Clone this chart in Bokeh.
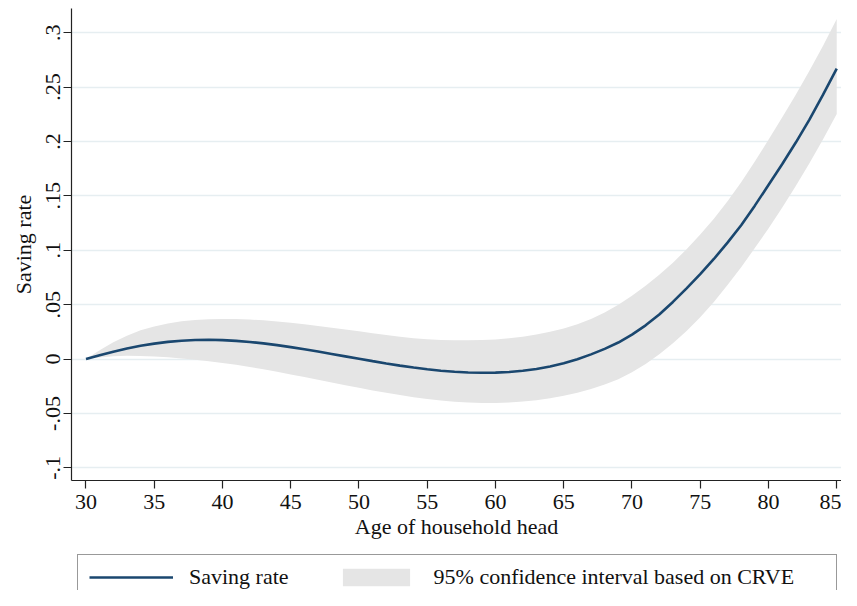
from bokeh.plotting import figure
from bokeh.layouts import column
from bokeh.models import (ColumnDataSource, FixedTicker, Legend, LegendItem, Range1d)
from bokeh.embed import file_html
from bokeh.resources import INLINE

ages = list(range(30, 86))
saving_rate = [0.0000, 0.0035, 0.0068, 0.0097, 0.0122, 0.0142, 0.0158, 0.0169, 0.0175, 0.0177,
               0.0174, 0.0167, 0.0157, 0.0144, 0.0128, 0.0110, 0.0090, 0.0069, 0.0047, 0.0025,
               0.0003, -0.0019, -0.0040, -0.0060, -0.0078, -0.0094, -0.0107, -0.0117, -0.0123, -0.0126,
               -0.0125, -0.0119, -0.0108, -0.0091, -0.0068, -0.0038, -0.0001, 0.0043, 0.0094, 0.0152,
               0.0225, 0.0310, 0.0410, 0.0525, 0.0650, 0.0780, 0.0920, 0.1070, 0.1230, 0.1410,
               0.1600, 0.1790, 0.1990, 0.2200, 0.2430, 0.2670]
ci_upper = [0.0000, 0.0080, 0.0155, 0.0215, 0.0265, 0.0300, 0.0328, 0.0348, 0.0360, 0.0367,
            0.0369, 0.0368, 0.0363, 0.0356, 0.0346, 0.0334, 0.0320, 0.0305, 0.0289, 0.0272,
            0.0255, 0.0238, 0.0221, 0.0205, 0.0192, 0.0182, 0.0176, 0.0173, 0.0173, 0.0176,
            0.0181, 0.0191, 0.0205, 0.0225, 0.0250, 0.0281, 0.0320, 0.0368, 0.0428, 0.0500,
            0.0582, 0.0675, 0.0775, 0.0885, 0.1010, 0.1145, 0.1290, 0.1450, 0.1625, 0.1815,
            0.2015, 0.2220, 0.2430, 0.2650, 0.2880, 0.3125]
ci_lower = [0.0000, 0.0015, 0.0025, 0.0030, 0.0029, 0.0024, 0.0016, 0.0006, -0.0006, -0.0020,
            -0.0035, -0.0052, -0.0072, -0.0094, -0.0117, -0.0141, -0.0165, -0.0190, -0.0215, -0.0240,
            -0.0264, -0.0288, -0.0310, -0.0331, -0.0350, -0.0367, -0.0381, -0.0392, -0.0399, -0.0403,
            -0.0403, -0.0399, -0.0391, -0.0378, -0.0360, -0.0337, -0.0309, -0.0275, -0.0234, -0.0186,
            -0.0120, -0.0045, 0.0045, 0.0145, 0.0258, 0.0385, 0.0525, 0.0680, 0.0845, 0.1020,
            0.1200, 0.1390, 0.1590, 0.1800, 0.2020, 0.2253]

x_ticks = [30, 35, 40, 45, 50, 55, 60, 65, 70, 75, 80, 85]
y_ticks = [-0.1, -0.05, 0.0, 0.05, 0.1, 0.15, 0.2, 0.25, 0.3]
y_tick_labels = ["-.1", "-.05", "0", ".05", ".1", ".15", ".2", ".25", ".3"]

FONT = "Liberation Serif"
NAVY = "#1a476f"
BAND = "#e5e5e5"

src = ColumnDataSource(dict(age=ages, rate=saving_rate, lo=ci_lower, hi=ci_upper))

p = figure(width=841, height=552, output_backend="svg", toolbar_location=None,
           x_range=Range1d(28.938, 85.35), y_range=Range1d(-0.1116, 0.3222),
           min_border_left=71, min_border_right=0, min_border_top=8, min_border_bottom=72)
p.outline_line_color = None
p.background_fill_color = "white"
p.border_fill_color = "white"

band = p.varea(x="age", y1="lo", y2="hi", source=src, fill_color=BAND)
line = p.line(x="age", y="rate", source=src, line_color=NAVY, line_width=2.6)

p.xgrid.grid_line_color = None
p.ygrid.grid_line_color = "#e6eef1"
p.ygrid.grid_line_width = 1.6
p.ygrid.level = "underlay"

p.xaxis.ticker = FixedTicker(ticks=x_ticks)
p.yaxis.ticker = FixedTicker(ticks=y_ticks)
p.yaxis.major_label_overrides = {t: l for t, l in zip(y_ticks, y_tick_labels)}
p.yaxis.major_label_orientation = "vertical"

for ax in (p.xaxis[0], p.yaxis[0]):
    ax.axis_line_color = "#222222"
    ax.axis_line_width = 1.2
    ax.major_tick_line_color = "#222222"
    ax.major_tick_line_width = 1.2
    ax.major_tick_out = 8
    ax.major_tick_in = 0
    ax.minor_tick_line_color = None
    ax.major_label_text_font = FONT
    ax.major_label_text_font_size = "22px"
    ax.major_label_text_color = "#111111"
    ax.axis_label_text_font = FONT
    ax.axis_label_text_font_size = "22px"
    ax.axis_label_text_font_style = "normal"
    ax.axis_label_text_color = "#111111"

p.xaxis.axis_label = "Age of household head"
p.xaxis.major_label_standoff = 6
p.xaxis.axis_label_standoff = 2
p.yaxis.axis_label = "Saving rate"
p.yaxis.major_label_standoff = 3
p.yaxis.axis_label_standoff = 8

# legend strip (second figure, only holds the legend); its ranges keep the data out of view
q = figure(width=841, height=38, output_backend="svg", toolbar_location=None,
           x_axis_location=None, y_axis_location=None,
           x_range=Range1d(1000, 1001), y_range=Range1d(1000, 1001),
           min_border_left=0, min_border_right=0, min_border_top=0, min_border_bottom=0)
q.grid.visible = False
q.outline_line_color = None
q.border_fill_color = "white"
q.background_fill_color = "white"

leg_line = q.line(x="age", y="rate", source=src, line_color=NAVY, line_width=2.6)
leg_band = q.varea(x="age", y1="lo", y2="hi", source=src, fill_color=BAND)
leg_box = q.line(x="age", y="rate", source=src, line_alpha=0)

LOC = (6, -12)
box = Legend(items=[LegendItem(label="", renderers=[leg_box])], location=LOC,
             orientation="horizontal", padding=12, glyph_width=734, glyph_height=22,
             label_standoff=0, label_width=0, label_text_font=FONT, label_text_font_size="22px",
             border_line_color="#333333", border_line_width=1.2, background_fill_color="white",
             background_fill_alpha=1.0, margin=0)
q.add_layout(box, "center")

legend = Legend(items=[LegendItem(label="Saving rate", renderers=[leg_line]),
                       LegendItem(label="95% confidence interval based on CRVE", renderers=[leg_band])],
                location=LOC, orientation="horizontal", padding=12, spacing=45,
                glyph_width=84, glyph_height=22, label_standoff=16,
                label_text_font=FONT, label_text_font_size="22px", label_text_color="#111111",
                border_line_alpha=0, background_fill_alpha=0, margin=0)
q.add_layout(legend, "center")

layout = column(p, q, spacing=0)
open("out.html", "w").write(file_html(layout, INLINE))
